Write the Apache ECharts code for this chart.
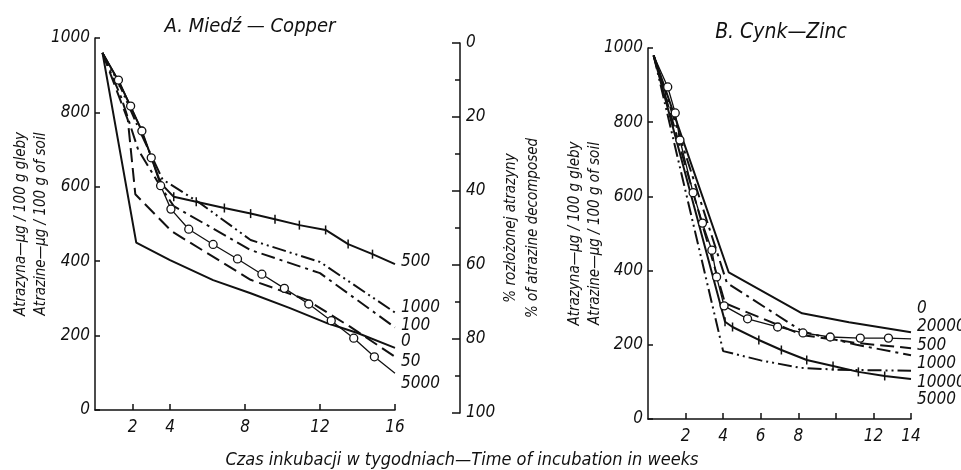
<!DOCTYPE html>
<html>
<head>
<meta charset="utf-8">
<script src="https://cdn.jsdelivr.net/npm/echarts@6/dist/echarts.min.js"></script>
<style>
  html, body { margin: 0; padding: 0; background: #fff; }
  #chart { width: 961px; height: 470px; }
</style>
</head>
<body>
<div id="chart"></div>
<script>
// A. Copper: [week, µg atrazine / 100 g soil], one array per Cu dose
const cu0    = [[0.4, 960], [2.2, 450], [4, 403], [6.3, 349], [8.3, 314], [10.4, 274], [12.4, 233], [14, 207], [16, 167]];
const cu50   = [[0.4, 960], [1.75, 780], [2.15, 580], [4.1, 480], [8.3, 350], [11.3, 296], [13.6, 224], [16, 143]];
const cu100  = [[0.4, 960], [1.4, 840], [2.3, 700], [3.5, 600], [4.2, 548], [8.3, 430], [12, 368], [16, 222]];
const cu500  = [[0.4, 960], [1.3, 880], [2.5, 750], [3.5, 610], [4.2, 573], [5.4, 560], [6.9, 543], [8.3, 528],
                [9.6, 513], [10.9, 497], [12.3, 484], [13.5, 446], [14.8, 419], [16, 392]];
const cu1000 = [[0.4, 960], [1.3, 875], [2.3, 760], [3.6, 620], [5.6, 556], [8.3, 457], [12, 398], [16, 262]];
const cu5000 = [[0.4, 960], [1.25, 887], [1.9, 817], [2.5, 750], [3, 678], [3.5, 603], [4.05, 540], [5, 486],
                [6.3, 445], [7.6, 406], [8.9, 365], [10.1, 327], [11.4, 285], [12.6, 240], [13.8, 193], [14.9, 143], [16, 99]];

// B. Zinc
const zn0     = [[0.3, 980], [4.3, 395], [8.2, 285], [10.7, 261], [14, 234]];
const zn20000 = [[0.3, 980], [1.05, 895], [1.45, 825], [1.7, 752], [2.4, 610], [2.9, 528], [3.4, 455], [3.65, 383],
                 [4.05, 305], [5.3, 270], [6.9, 248], [8.25, 232], [9.7, 221], [11.3, 218], [12.8, 218], [14, 216]];
const zn500   = [[0.3, 980], [4.1, 312], [8.25, 226], [11.1, 205], [14, 191]];
const zn1000  = [[0.3, 980], [4.2, 367], [8.25, 235], [11.1, 200], [14, 172]];
const zn10000 = [[0.3, 980], [4.0, 183], [6, 158], [8.1, 138], [10, 133], [14, 130]];
const zn5000  = [[0.3, 980], [4.1, 262], [4.5, 248], [5.9, 213], [7.1, 186], [8.45, 159],
                 [9.85, 143], [11.2, 127], [12.6, 116], [14, 108]];

const ticksA = [2, 4, 8, 12, 16];
const ticksB = [2, 4, 6, 8, 10, 12, 14];
const labelsB = [2, 4, 6, 8, 12, 14];

const FONT = '"Liberation Sans Narrow", "DejaVu Sans Condensed", sans-serif';
const INK = '#111';
const txt = { fontFamily: FONT, fontStyle: 'italic', color: INK };

const DASH = [14, 6];
const DASH_DOT = [14, 5, 3, 5];
const DASH_DOT_DOT = [14, 4, 2, 4, 2, 4];

function line(name, pts, idx, dash, labelDy, extra) {
  return Object.assign({
    name: name,
    type: 'line',
    xAxisIndex: idx,
    yAxisIndex: idx,
    // no marker on the start / end of a curve
    data: pts.map((p, i) => (i === 0 || i === pts.length - 1) ? { value: p, symbol: 'none' } : p),
    symbol: 'none',
    showAllSymbol: true,
    lineStyle: { color: INK, width: 2, type: dash },
    itemStyle: { color: INK },
    endLabel: {
      show: true,
      formatter: () => name,
      ...txt,
      fontSize: 17,
      distance: 6,
      offset: [0, labelDy],
    },
    silent: true,
  }, extra);
}

const circles = { symbol: 'circle', symbolSize: 8, lineStyle: { color: INK, width: 1.3 },
                  itemStyle: { color: '#fff', borderColor: INK, borderWidth: 1.3 } };
const crosses = { symbol: 'rect', symbolSize: [1.5, 9] };

function valueY(grid, name, gap) {
  return {
    type: 'value', gridIndex: grid, min: 0, max: 1000, interval: 200,
    axisLine: { show: true, lineStyle: { color: INK, width: 1.5 } },
    axisTick: { show: true, inside: true, length: 5, lineStyle: { color: INK, width: 1.5 } },
    axisLabel: { ...txt, fontSize: 17, margin: 5, formatter: v => String(v) },
    splitLine: { show: false },
    name: name, nameLocation: 'middle', nameGap: gap, nameMoveOverlap: false,
    nameTextStyle: { ...txt, fontSize: 15, lineHeight: 20 },
  };
}

function weekX(grid, max, ticks, labels) {
  return {
    type: 'value', gridIndex: grid, min: 0, max: max,
    axisLine: { show: true, lineStyle: { color: INK, width: 1.5 } },
    axisTick: { show: true, inside: true, length: 6, customValues: ticks, lineStyle: { color: INK, width: 1.5 } },
    axisLabel: { ...txt, fontSize: 17, margin: 9, customValues: labels },
    splitLine: { show: false },
  };
}

const chart = echarts.init(document.getElementById('chart'));
chart.setOption({
  animation: false,
  backgroundColor: '#fff',
  title: [
    { text: 'A. Miedź — Copper', left: 245, top: 12, textAlign: 'center',
      textStyle: { ...txt, fontSize: 20, fontWeight: 'normal' } },
    { text: 'B. Cynk—Zinc', left: 776, top: 17, textAlign: 'center',
      textStyle: { ...txt, fontSize: 21, fontWeight: 'normal' } },
    { text: 'Czas inkubacji w tygodniach—Time of incubation in weeks', left: 457, top: 446, textAlign: 'center',
      textStyle: { ...txt, fontSize: 18, fontWeight: 'normal' } },
  ],
  grid: [
    { left: 95, top: 38, width: 300, height: 372 },
    { left: 648, top: 48, width: 263, height: 371 },
    { left: 400, top: 43, width: 60, height: 370 },
  ],
  xAxis: [
    weekX(0, 16, ticksA, ticksA),
    weekX(1, 14, ticksB, labelsB),
    { type: 'value', gridIndex: 2, min: 0, max: 1, show: false },
  ],
  yAxis: [
    valueY(0, 'Atrazyna—µg / 100 g gleby\nAtrazine—µg / 100 g of soil', 44),
    valueY(1, 'Atrazyna—µg / 100 g gleby\nAtrazine—µg / 100 g of soil', 43),
    {
      type: 'value', gridIndex: 2, position: 'right', inverse: true, min: 0, max: 100, interval: 20,
      axisLine: { show: true, onZero: false, lineStyle: { color: INK, width: 1.5 } },
      axisTick: { show: true, inside: true, length: 8, lineStyle: { color: INK, width: 1.5 } },
      minorTick: { show: true, splitNumber: 2, length: 5, lineStyle: { color: INK, width: 1.5 } },
      axisLabel: { ...txt, fontSize: 17, margin: 6 },
      splitLine: { show: false },
      name: '% rozłożonej atrazyny\n% of atrazine decomposed', nameLocation: 'middle', nameGap: 40,
      nameMoveOverlap: false,
      nameTextStyle: { ...txt, fontSize: 15, lineHeight: 22 },
    },
  ],
  series: [
    line('500', cu500, 0, 'solid', -3, crosses),
    line('1000', cu1000, 0, DASH_DOT_DOT, -5),
    line('100', cu100, 0, DASH_DOT, -2),
    line('0', cu0, 0, 'solid', -6),
    line('50', cu50, 0, DASH, 5),
    line('5000', cu5000, 0, 'solid', 10, circles),

    line('0', zn0, 1, 'solid', -24),
    line('20000', zn20000, 1, 'solid', -12, circles),
    line('500', zn500, 1, DASH, -3),
    line('1000', zn1000, 1, DASH_DOT, 8),
    line('10000', zn10000, 1, DASH_DOT_DOT, 12),
    line('5000', zn5000, 1, 'solid', 21, crosses),
  ],
});
</script>
</body>
</html>
